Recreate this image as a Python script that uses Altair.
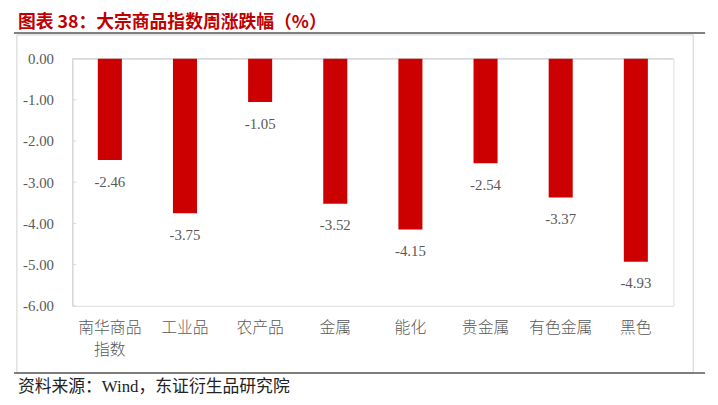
import altair as alt
import pandas as pd

categories = ["南华商品指数", "工业品", "农产品", "金属", "能化", "贵金属", "有色金属", "黑色"]
values = [-2.46, -3.75, -1.05, -3.52, -4.15, -2.54, -3.37, -4.93]
y_ticks = [0, -1, -2, -3, -4, -5, -6]
title_text = "图表 38：大宗商品指数周涨跌幅（%）"
source_text = "资料来源：Wind，东证衍生品研究院"

df = pd.DataFrame({"cat": categories, "val": values,
                   "label": [f"{v:.2f}" for v in values]})
ticks_df = pd.DataFrame({"t": y_ticks[1:]})
one = pd.DataFrame({"k": [0]})

W, H = 608, 250
SERIF = "Liberation Serif, Noto Sans CJK SC"
GRAY = "#595959"
RED = "#CC0000"

x_enc = alt.X("cat:N", sort=categories, title=None,
              scale=alt.Scale(paddingInner=0.68, paddingOuter=0.34),
              axis=alt.Axis(orient="bottom", domain=False, ticks=False, labelAngle=0,
                            labelFont=SERIF, labelFontSize=16, labelFontWeight=300,
                            labelColor=GRAY,
                            labelPadding=14, labelLineHeight=22, labelBaseline="top",
                            labelExpr="datum.value == '南华商品指数' ? ['南华商品', '指数'] : datum.value"))
y_enc = alt.Y("val:Q", title=None,
              scale=alt.Scale(domain=[-6, 0], nice=False),
              axis=alt.Axis(values=y_ticks, grid=False, ticks=False,
                            domainColor="#d9d9d9", domainWidth=1.5,
                            labelExpr="(datum.value < 0 ? '-' : '') + format(abs(datum.value), '.2f')",
                            labelFont=SERIF, labelFontSize=15, labelColor=GRAY,
                            labelPadding=19))

bars = alt.Chart(df).mark_bar(color=RED).encode(x=x_enc, y=y_enc)

labels = alt.Chart(df).mark_text(font=SERIF, fontSize=15, color=GRAY,
                                 baseline="top", dy=15).encode(
    x=alt.X("cat:N", sort=categories), y="val:Q", text="label:N")

zero = alt.Chart(one).mark_rule(color="#d9d9d9", strokeWidth=1.5).encode(
    y=alt.datum(0), x=alt.value(0), x2=alt.value(W))

yticks = alt.Chart(ticks_df).mark_rule(color="#d9d9d9", strokeWidth=1).encode(
    y="t:Q", x=alt.value(0), x2=alt.value(4))

frame = alt.Chart(one).mark_rect(fill=None, stroke="#d0d0d0", strokeWidth=1).encode(
    x=alt.value(-56), x2=alt.value(628), y=alt.value(-24), y2=alt.value(318))

title = alt.Chart(one).mark_text(text=title_text, font="Noto Sans CJK SC", fontSize=18,
                                 fontWeight="bold", color="#C00000", align="left",
                                 baseline="middle").encode(
    x=alt.value(-55), y=alt.value(-36))

title_line = alt.Chart(one).mark_rule(color="#808080", strokeWidth=2).encode(
    x=alt.value(-59), x2=alt.value(640), y=alt.value(-26))

source_line = alt.Chart(one).mark_rule(color="#595959", strokeWidth=1.5).encode(
    x=alt.value(-59), x2=alt.value(640), y=alt.value(318))

source = alt.Chart(one).mark_text(text=source_text, font=SERIF, fontSize=17,
                                  color="#222222", align="left",
                                  baseline="middle").encode(
    x=alt.value(-55), y=alt.value(332))

chart = alt.layer(frame, zero, bars, yticks, labels, title, title_line, source_line, source).properties(
    width=W, height=H,
    autosize=alt.AutoSizeParams(type="none"),
    padding={"left": 65, "top": 49, "right": 37, "bottom": 90},
).configure_view(stroke=None).configure(background="white")

chart.save("out.html", embed_options={"renderer": "svg", "actions": False})
